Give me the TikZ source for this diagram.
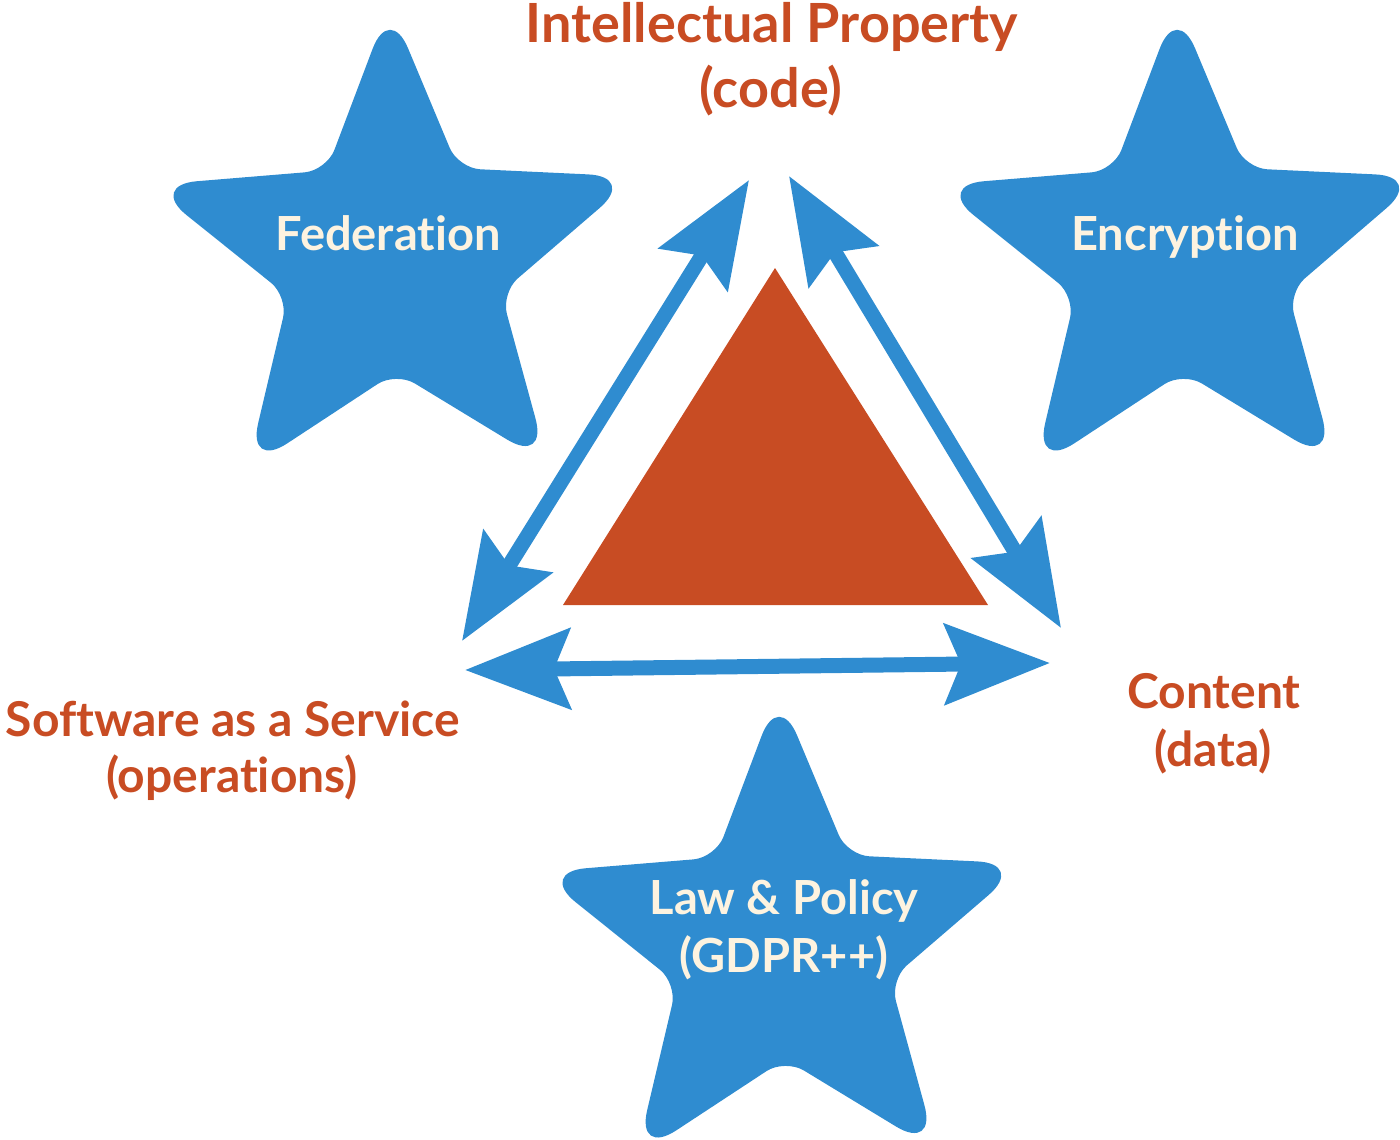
\documentclass[tikz,border=0pt]{standalone}
\usepackage{fontspec}
\setmainfont{Lato}[Ligatures=NoCommon]
\usetikzlibrary{arrows.meta,calc}
\definecolor{starblue}{RGB}{47,140,208}
\definecolor{rust}{RGB}{200,76,35}
\definecolor{cream}{RGB}{253,243,224}
% rounded corner: prev, corner, next, cut distance, control distance
\newcommand\rcs[5]{-- ($(#2)!#4!(#1)$) .. controls ($(#2)!#5!(#1)$) and ($(#2)!#5!(#3)$) .. ($(#2)!#4!(#3)$)}
\newcommand\drawstar[3]{%
  \begin{scope}[shift={(#1,#2)}]
    \foreach \i in {0,...,4}{
      \coordinate (t\i) at ({-90+#3+72*\i}:256);
      \coordinate (n\i) at ({-54+#3+72*\i}:112);
    }
    \fill[starblue] ($(t0)!48pt!(n0)$)
      \rcs{t0}{n0}{t1}{22pt}{10pt} \rcs{n0}{t1}{n1}{48pt}{21pt}
      \rcs{t1}{n1}{t2}{22pt}{10pt} \rcs{n1}{t2}{n2}{48pt}{21pt}
      \rcs{t2}{n2}{t3}{22pt}{10pt} \rcs{n2}{t3}{n3}{48pt}{21pt}
      \rcs{t3}{n3}{t4}{22pt}{10pt} \rcs{n3}{t4}{n4}{48pt}{21pt}
      \rcs{t4}{n4}{t0}{22pt}{10pt} \rcs{n4}{t0}{n0}{48pt}{21pt} -- cycle;
  \end{scope}}
\begin{document}
\begin{tikzpicture}[x=1pt,y=-1pt,
  lbl/.style={text=rust, font=\fontsize{48}{58}\selectfont\bfseries, inner sep=0pt, anchor=base},
  toplbl/.style={lbl, font=\fontsize{54}{64}\selectfont\bfseries},
  startxt/.style={text=cream, font=\fontsize{47}{56}\selectfont\bfseries, inner sep=0pt, anchor=base},
  dblarrow/.style={draw=starblue, line width=15pt,
    arrows={Stealth[length=105pt,width=80pt,inset=16pt]-Stealth[length=105pt,width=80pt,inset=16pt]}}
]
\useasboundingbox (0,0) rectangle (1400,1140);

% stars
\drawstar{394}{260}{-1}
\drawstar{1181}{260}{-1}
\drawstar{783}{947}{-1}

% triangle
\coordinate (tA) at (775,268);
\coordinate (tB) at (988,605);
\coordinate (tC) at (563,605);
\fill[rust] (tA) -- (tB) -- (tC) -- cycle;

% arrow end points
\coordinate (a1) at (749,180);
\coordinate (a2) at (462,641);
\coordinate (b1) at (789,176);
\coordinate (b2) at (1061,628);
\coordinate (c1) at (465,670);
\coordinate (c2) at (1050,663);
\draw[dblarrow] (a1) -- (a2);
\draw[dblarrow] (b1) -- (b2);
\draw[dblarrow] (c1) -- (c2);

% labels
\node[toplbl] (ip) at (772,43) {Intellectual Property};
\node[toplbl] (code) at (771,107) {(code)};
\node[lbl] (saas) at (233,736) {Software as a Service};
\node[lbl] (ops) at (232,792) {(operations)};
\node[lbl] (content) at (1214,708) {Content};
\node[lbl] (data) at (1213,766) {(data)};

\node[startxt] (fed) at (388,250) {Federation};
\node[startxt] (enc) at (1185,250) {Encryption};
\node[startxt] (law) at (784,914) {Law \& Policy};
\node[startxt] (gdpr) at (784,972) {(GDPR++)};
\end{tikzpicture}
\end{document}
